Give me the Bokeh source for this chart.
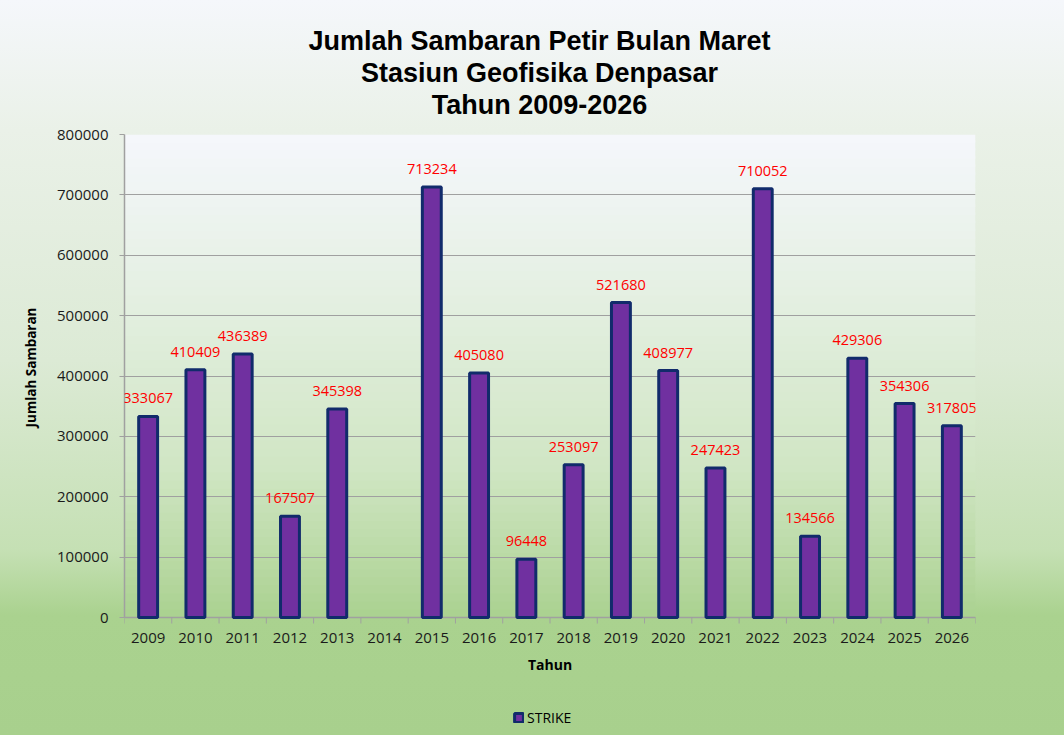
from bokeh.plotting import figure
from bokeh.models import (Range1d, FixedTicker, BoxAnnotation, LabelSet, ColumnDataSource,
                          Legend, LegendItem, NumeralTickFormatter, Title)
from bokeh.core.properties import value
from bokeh.embed import file_html
from bokeh.resources import INLINE

# ---------------- data ----------------
years = ["2009", "2010", "2011", "2012", "2013", "2014", "2015", "2016", "2017",
         "2018", "2019", "2020", "2021", "2022", "2023", "2024", "2025", "2026"]
strikes = [333067, 410409, 436389, 167507, 345398, None, 713234, 405080, 96448,
           253097, 521680, 408977, 247423, 710052, 134566, 429306, 354306, 317805]
y_ticks = [0, 100000, 200000, 300000, 400000, 500000, 600000, 700000, 800000]
series_name = "STRIKE"
title_lines = ["Jumlah Sambaran Petir Bulan Maret", "Stasiun Geofisika Denpasar", "Tahun 2009-2026"]
x_title = "Tahun"
y_title = "Jumlah Sambaran"

# ---------------- layout constants ----------------
FIG_H = 735
FRAME_W = 851
PLOT_H = 483            # pixel height of the value axis (0 .. top tick)
B_LEFT, B_RIGHT, B_TOP = 124, 89, 134
FRAME_H = FIG_H - B_TOP  # frame reaches the bottom so the category labels/legend live inside it

n = len(years)
pos = list(range(1, n + 1))
ymax = y_ticks[-1]
px = ymax / PLOT_H       # data units per pixel on the value axis
ymin = -(FRAME_H - PLOT_H) * px

p = figure(frame_width=FRAME_W, frame_height=FRAME_H,
           min_border_left=B_LEFT, min_border_right=B_RIGHT,
           min_border_top=B_TOP, min_border_bottom=0,
           x_range=Range1d(0.5, n + 0.5), y_range=Range1d(ymin, ymax),
           x_axis_location=None,
           output_backend="svg", toolbar_location=None, title=None)
ya = p.left[0]
p.outline_line_color = None
p.border_fill_alpha = 0
p.background_fill_alpha = 0
p.styles = {"background": "linear-gradient(to bottom, #f5f7fb 0px, #eaf1e8 130px, #dcead5 360px, "
                          "#c5e0b4 550px, #aad28f 615px, #a8d08d 735px)"}

# ---------------- plot-area gradient ----------------
def interp(stops, t):
    for (t0, c0), (t1, c1) in zip(stops[:-1], stops[1:]):
        if t0 <= t <= t1:
            f = (t - t0) / (t1 - t0) if t1 > t0 else 0
            return tuple(int(round(a + (b - a) * f)) for a, b in zip(c0, c1))
    return stops[-1][1]

def hexc(c):
    return "#%02x%02x%02x" % c

inner_stops = [(0.0, (245, 247, 252)), (0.36, (227, 239, 224)), (0.69, (208, 230, 196)),
               (0.93, (179, 214, 156)), (1.0, (170, 209, 143))]
N_IN = 60
dstep = ymax / N_IN
for i in range(N_IN):
    t = 1 - (i + 0.5) / N_IN  # 0 at top
    top_v = min(ymax, (i + 1) * dstep + dstep * 0.3)
    p.add_layout(BoxAnnotation(bottom=i * dstep, top=top_v,
                               fill_color=hexc(interp(inner_stops, t)), fill_alpha=1.0,
                               line_alpha=0, level="image"))

GRAY = "#a0a0a0"

# ---------------- category axis (drawn at value 0) ----------------
bounds = [x - 0.5 for x in pos] + [n + 0.5]
p.segment(x0=[bounds[0]], x1=[bounds[-1]], y0=[0], y1=[0], line_color=GRAY, line_width=1.5)
p.segment(x0=bounds, x1=bounds, y0=[0] * len(bounds), y1=[-6 * px] * len(bounds),
          line_color=GRAY, line_width=1)
p.text(x=pos, y=[-20 * px] * n, text=years, text_align="center", text_baseline="middle",
       text_font=value("Open Sans"), text_font_size="15px", text_color="#1a1a1a")
p.text(x=[(bounds[0] + bounds[-1]) / 2], y=[-47 * px], text=[x_title], text_align="center",
       text_baseline="middle", text_font=value("Open Sans"), text_font_size="14px",
       text_font_style="bold", text_color="#000000")

# ---------------- bars ----------------
bx = [x for x, v in zip(pos, strikes) if v is not None]
bt = [v for v in strikes if v is not None]
src = ColumnDataSource(dict(x=bx, top=bt, label=[str(v) for v in bt]))
bars = p.vbar(x="x", top="top", bottom=0, width=0.40, source=src,
              fill_color="#7030a0", line_color="#112b6b", line_width=3)

labels = LabelSet(x="x", y="top", text="label", source=src, text_align="center",
                  text_baseline="alphabetic", y_offset=13, text_color="#ff0000",
                  text_font=value("Open Sans"), text_font_size="14.5px")
p.add_layout(labels)

# ---------------- title (three centred lines, nearest the plot first) ----------------
pad = "\u2002\u00a0"  # shifts the centred lines slightly left, as in the original
title_style = dict(align="center", text_font="Liberation Sans", text_font_size="27px",
                   text_font_style="bold", text_color="#000000")
t3 = Title(text=title_lines[2] + pad, **title_style)
if "padding" in Title.properties():
    t3.standoff = 0
    t3.padding = dict(left=0, right=0, top=0, bottom=15)
else:
    t3.standoff = 16
p.add_layout(t3, "above")
p.add_layout(Title(text=title_lines[1] + pad, standoff=0, **title_style), "above")
p.add_layout(Title(text=title_lines[0] + pad, standoff=0, **title_style), "above")

# ---------------- value axis ----------------
p.xgrid.visible = False
p.ygrid.ticker = FixedTicker(ticks=y_ticks)
p.ygrid.grid_line_color = GRAY
p.ygrid.grid_line_width = 1

ya.ticker = FixedTicker(ticks=y_ticks)
ya.bounds = (y_ticks[0], y_ticks[-1])
ya.formatter = NumeralTickFormatter(format="0")
ya.axis_line_color = GRAY
ya.axis_line_width = 1.5
ya.major_tick_line_color = GRAY
ya.major_tick_out = 5
ya.major_tick_in = 0
ya.minor_tick_line_color = None
ya.major_label_text_font = "Open Sans"
ya.major_label_text_font_size = "15px"
ya.major_label_text_color = "#1a1a1a"
ya.major_label_standoff = 11
# leading em-spaces centre the visible title on the 0..800000 span rather than the whole frame
ya.axis_label = "\u2003" * 10 + y_title
ya.axis_label_text_font = "Open Sans"
ya.axis_label_text_font_size = "13.5px"
ya.axis_label_text_font_style = "bold"
ya.axis_label_text_color = "#000000"
ya.axis_label_standoff = 14

# ---------------- legend (inside the frame, below the category labels) ----------------
legend = Legend(items=[LegendItem(label=series_name, renderers=[bars])],
                location=(389, 8), orientation="horizontal",
                background_fill_alpha=0, border_line_alpha=0, padding=0, margin=0,
                glyph_width=11, glyph_height=11, label_height=11, label_standoff=3,
                label_text_font="Open Sans", label_text_font_size="14px",
                label_text_color="#000000")
p.add_layout(legend)

open("out.html", "w").write(file_html(p, INLINE))
